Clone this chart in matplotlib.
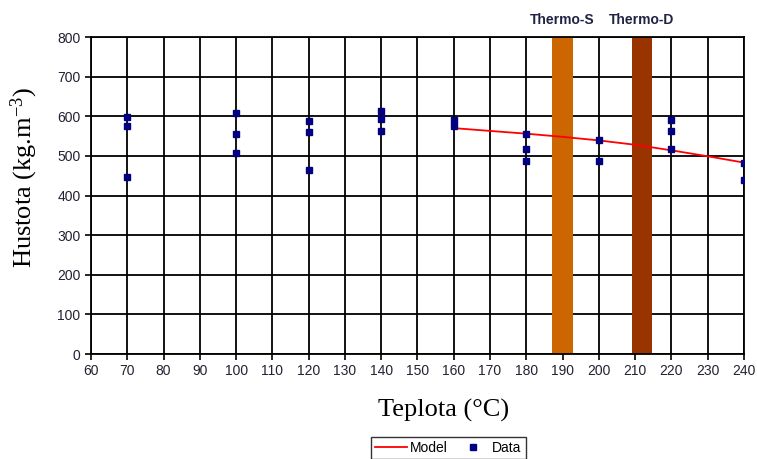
import matplotlib
matplotlib.use("Agg")
import matplotlib.pyplot as plt
import numpy as np

plt.rcParams["mathtext.fontset"] = "custom"
plt.rcParams["mathtext.rm"] = "Liberation Serif"
plt.rcParams["mathtext.it"] = "Liberation Serif:italic"

# Data
data_x = [70, 70, 70, 100, 100, 100, 120, 120, 120, 140, 140, 140, 160, 160,
          180, 180, 180, 200, 200, 220, 220, 220, 240, 240]
data_y = [598, 575, 446, 607, 554, 508, 589, 561, 465, 613, 594, 564, 590, 575,
          555, 517, 488, 540, 486, 591, 564, 517, 483, 439]
model_x = [160, 170, 180, 190, 200, 210, 220, 230, 240]
model_y = [570, 563, 556, 548, 539, 528, 514, 499, 483]
zones = ["Thermo-S", "Thermo-D"]
zone_x = [190.0, 211.8]
zone_colors = ["#CC6600", "#993300"]

fig = plt.figure(figsize=(7.57, 4.59), dpi=100)
ax = fig.add_axes([91/757, 1-354/459, (744-91)/757, (354-37)/459])

ax.set_xlim(60, 240)
ax.set_ylim(0, 800)
ax.set_xticks(np.arange(60, 241, 10))
ax.set_yticks(np.arange(0, 801, 100))
ax.grid(True, color="black", linewidth=1.3)
ax.set_axisbelow(True)

for zx, zc, zn in zip(zone_x, zone_colors, zones):
    ax.bar(zx, 800, width=5.6, bottom=0, color=zc, zorder=2)
    ax.text(zx, 1.03, zn, transform=ax.get_xaxis_transform(), ha="center", va="bottom",
            fontsize=10, fontweight="bold", color="#222244", family="Liberation Sans")

ax.plot(model_x, model_y, color="red", linewidth=1.3, label="Model", zorder=3)
ax.plot(data_x, data_y, linestyle="none", marker="s", markersize=5, color="#000080",
        label="Data", zorder=4)

for s in ax.spines.values():
    s.set_color("black")
    s.set_linewidth(1.3)
ax.tick_params(axis="both", direction="out", length=4, width=1.2, colors="black",
               labelsize=10)
for lab in ax.get_xticklabels() + ax.get_yticklabels():
    lab.set_family("Liberation Sans")
    lab.set_color("#222233")

ax.set_xlabel("Teplota (°C)", family="Liberation Serif", fontsize=19, labelpad=15)
ax.xaxis.label.set_x(0.54)
ax.set_ylabel("Hustota (kg.m$^{\\mathrm{-3}}$)", family="Liberation Serif", fontsize=19)
ax.yaxis.set_label_coords(-0.078, 0.557)

leg = fig.legend(loc="lower center", bbox_to_anchor=(0.592, -0.015), ncol=2, frameon=True,
                 fancybox=False, edgecolor="black", handlelength=2.3, handletextpad=0.25,
                 columnspacing=0.6, borderpad=0.3,
                 prop={"family": "Liberation Sans", "size": 10})
leg.get_frame().set_linewidth(1.0)

fig.savefig("out.png", dpi=100)
